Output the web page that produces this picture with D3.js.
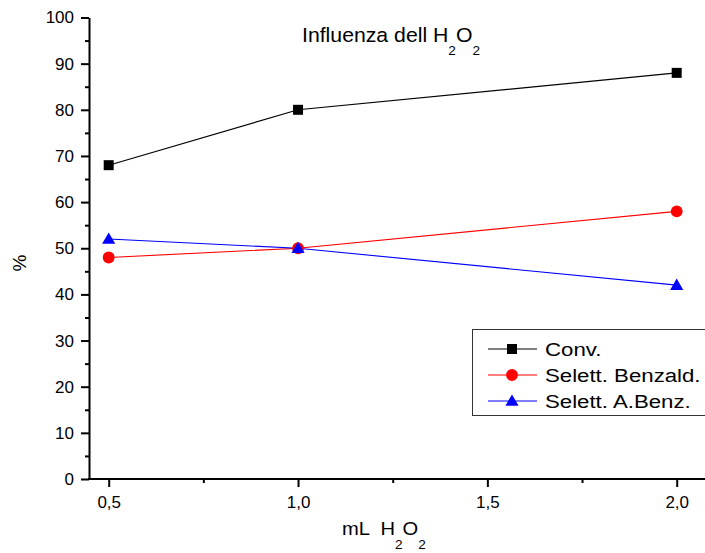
<!DOCTYPE html>
<html>
<head>
<meta charset="utf-8">
<script src="https://cdn.jsdelivr.net/npm/d3@7"></script>
<style>
  body { margin: 0; background: #fff; }
  svg { display: block; font-family: "Liberation Sans", Arial, sans-serif; }
</style>
</head>
<body>
<div id="chart"></div>
<script>
// data
const xValues = [0.5, 1.0, 2.0];
const conv = [68, 80, 88];
const selBenzald = [48, 50, 58];
const selABenz = [52, 50, 42];
const xTicks = [0.5, 1.0, 1.5, 2.0];
const xMinorTicks = [0.75, 1.25, 1.75];
const yTicks = [0, 10, 20, 30, 40, 50, 60, 70, 80, 90, 100];
const yMinorTicks = [5, 15, 25, 35, 45, 55, 65, 75, 85, 95];
const seriesNames = ["Conv.", "Selett. Benzald.", "Selett. A.Benz."];

const width = 705, height = 553;
const axisLeft = 89, axisRight = 712, axisBottom = 479;

const svg = d3.select("#chart").append("svg")
  .attr("width", width).attr("height", height);

const x = d3.scaleLinear().domain([0.5, 2.0]).range([108.7, 676.7]);
const y = d3.scaleLinear().domain([0, 100]).range([479, 17.5]);

const fmt = d => d3.format(".1f")(d).replace(".", ",");

// y axis
const gy = svg.append("g").attr("transform", `translate(${axisLeft},0)`);
gy.call(d3.axisLeft(y).tickValues(yTicks).tickSize(8).tickPadding(7).tickSizeOuter(0));
gy.append("g").call(d3.axisLeft(y).tickValues(yMinorTicks).tickSize(4).tickFormat(""))
  .select(".domain").remove();

// x axis
const gx = svg.append("g").attr("transform", `translate(0,${axisBottom})`);
gx.call(d3.axisBottom(x).tickValues(xTicks).tickFormat(fmt).tickSize(8).tickPadding(9).tickSizeOuter(0));
gx.select(".domain").remove();
gx.append("g").call(d3.axisBottom(x).tickValues(xMinorTicks).tickSize(4).tickFormat(""))
  .select(".domain").remove();
gx.append("line").attr("x1", axisLeft - 1).attr("x2", axisRight)
  .attr("stroke", "#000").attr("stroke-width", 2);

svg.selectAll(".domain, .tick line").attr("stroke", "#000").attr("stroke-width", 2);
svg.selectAll(".tick text").attr("font-size", 17).attr("fill", "#000")
  .attr("font-family", "Liberation Sans, Arial, sans-serif");

// series
const series = [
  { name: seriesNames[0], values: conv, color: "#000000", shape: "square" },
  { name: seriesNames[1], values: selBenzald, color: "#ff0000", shape: "circle" },
  { name: seriesNames[2], values: selABenz, color: "#0000ff", shape: "triangle" }
];

const symbolFor = s => s === "square" ? d3.symbol(d3.symbolSquare, 100)
  : s === "circle" ? d3.symbol(d3.symbolCircle, 110)
  : d3.symbol(d3.symbolTriangle, 75);

const line = d3.line().x(d => x(d[0])).y(d => y(d[1]));

series.forEach(s => {
  const pts = xValues.map((v, i) => [v, s.values[i]]);
  svg.append("path").datum(pts)
    .attr("d", line).attr("fill", "none")
    .attr("stroke", s.color).attr("stroke-width", 1.1);
});
series.forEach(s => {
  const pts = xValues.map((v, i) => [v, s.values[i]]);
  svg.append("g").selectAll("path").data(pts).enter().append("path")
    .attr("d", symbolFor(s.shape)())
    .attr("transform", d => `translate(${x(d[0])},${y(d[1]) + (s.shape === "triangle" ? 1 : 0)})`)
    .attr("fill", s.color);
});

// legend
const legend = svg.append("g");
legend.append("rect").attr("x", 472.5).attr("y", 329.5).attr("width", 260).attr("height", 86)
  .attr("fill", "#fff").attr("stroke", "#333").attr("stroke-width", 1);
series.forEach((s, i) => {
  const ly = 349 + i * 26;
  legend.append("line").attr("x1", 488).attr("x2", 537).attr("y1", ly).attr("y2", ly)
    .attr("stroke", s.color).attr("stroke-width", 1.1);
  legend.append("path").attr("d", symbolFor(s.shape)())
    .attr("transform", `translate(512,${ly + (s.shape === "triangle" ? 1 : 0)})`)
    .attr("fill", s.color);
  legend.append("text")
    .attr("transform", `translate(545,${ly + 6.8}) scale(1.17,1)`)
    .attr("font-size", 19).attr("fill", "#000").text(s.name);
});

// title with subscripts
const title = svg.append("text")
  .attr("transform", "translate(302,41.7) scale(1.09,1)")
  .attr("font-size", 19.5).attr("fill", "#000");
title.append("tspan").text("Influenza dell H");
title.append("tspan").attr("dy", 13).attr("font-size", 12.5).text("2");
title.append("tspan").attr("dy", -13).text("O");
title.append("tspan").attr("dy", 13).attr("font-size", 12.5).text("2");

// x label
const xl = svg.append("text")
  .attr("transform", "translate(342,535) scale(1.09,1)")
  .attr("font-size", 18.5).attr("fill", "#000").attr("xml:space", "preserve");
xl.append("tspan").text("mL  H");
xl.append("tspan").attr("dy", 14).attr("font-size", 12.5).text("2");
xl.append("tspan").attr("dy", -14).text("O");
xl.append("tspan").attr("dy", 14).attr("font-size", 12.5).text("2");

// y label
svg.append("text")
  .attr("transform", "translate(26,263) rotate(-90)")
  .attr("text-anchor", "middle")
  .attr("font-size", 19).attr("fill", "#000").text("%");
</script>
</body>
</html>
